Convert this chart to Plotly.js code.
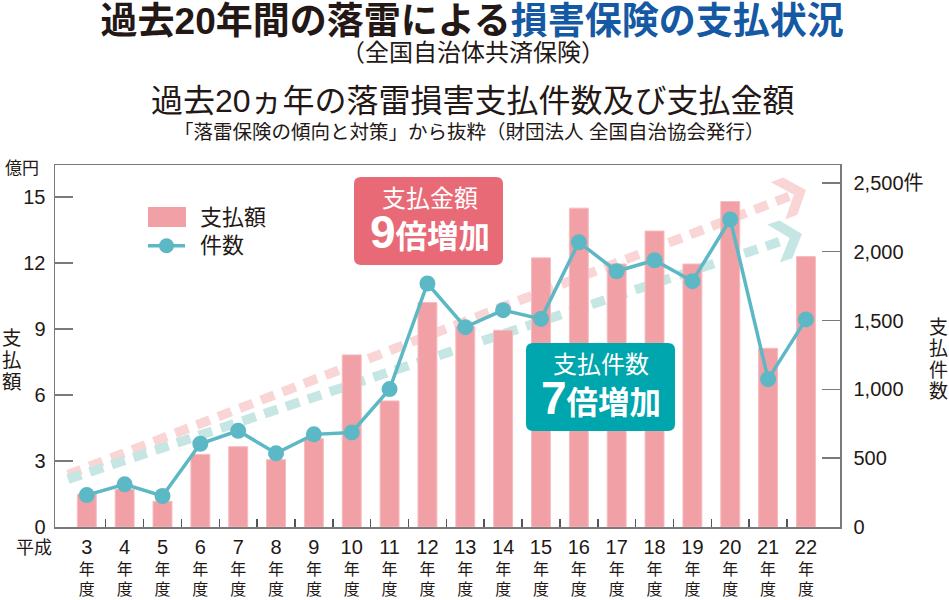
<!DOCTYPE html>
<html><head><meta charset="utf-8">
<script src="https://cdn.plot.ly/plotly-3.0.1.min.js"></script>
<style>html,body{margin:0;padding:0;background:#fff}</style>
</head><body><div id="chart" style="width:949px;height:600px"></div>
<script>
// ---- data ----
const years = ['3','4','5','6','7','8','9','10','11','12','13','14','15','16','17','18','19','20','21','22'];
const amount = [1.49,1.71,1.17,3.30,3.65,3.06,4.01,7.82,5.73,10.2,9.12,8.94,12.23,14.49,11.95,13.45,11.95,14.79,8.12,12.29]; // 億円
const counts = [232,310,225,605,699,535,673,687,1002,1769,1452,1575,1512,2069,1858,1938,1786,2234,1074,1508]; // 件
const leftTicks = [0,3,6,9,12,15];
const rightTicks = [0,500,1000,1500,2000,2500];
const rightTickText = ['0','500','1,000','1,500','2,000','2,500件'];

// ---- geometry helpers (pixel -> paper) ----
const L=55, T=165, W=785, H=362;
const X = px => (px-L)/W;
const Y = py => (T+H-py)/H;
const FONT = '"Liberation Sans", "Noto Sans CJK JP", sans-serif';
const INK = '#231815';

function roundRect(x0,y0,x1,y1,r){
  return `M${X(x0+r)},${Y(y0)} L${X(x1-r)},${Y(y0)} Q${X(x1)},${Y(y0)} ${X(x1)},${Y(y0+r)} `+
         `L${X(x1)},${Y(y1-r)} Q${X(x1)},${Y(y1)} ${X(x1-r)},${Y(y1)} `+
         `L${X(x0+r)},${Y(y1)} Q${X(x0)},${Y(y1)} ${X(x0)},${Y(y1-r)} `+
         `L${X(x0)},${Y(y0+r)} Q${X(x0)},${Y(y0)} ${X(x0+r)},${Y(y0)} Z`;
}
function chevron(tx,ty,dx,dy,Lc,Hc,Tc){
  const len=Math.hypot(dx,dy), ux=dx/len, uy=dy/len, nx=-uy, ny=ux;
  const pts=[[-Lc,-Hc],[-Lc+Tc,-Hc],[0,0],[-Lc+Tc,Hc],[-Lc,Hc],[-Tc,0]];
  return pts.map((p,i)=>{const px=tx+p[0]*ux+p[1]*nx, py=ty+p[0]*uy+p[1]*ny;
    return (i?'L':'M')+X(px)+','+Y(py);}).join(' ')+' Z';
}
const shapes = [
  // dashed trend arrows
  {type:'line',xref:'paper',yref:'paper',x0:X(68),y0:Y(474.7),x1:X(790),y1:Y(196),
   line:{color:'#f9d5d5',width:9.5,dash:'14px,9px'},layer:'below'},
  {type:'path',xref:'paper',yref:'paper',path:chevron(806,190,710,-274,30,20,13),
   fillcolor:'#f9d5d5',line:{width:0},layer:'below'},
  {type:'line',xref:'paper',yref:'paper',x0:X(68),y0:Y(479.3),x1:X(786),y1:Y(239.5),
   line:{color:'#c6e6e4',width:9.5,dash:'14px,9px'},layer:'below'},
  {type:'path',xref:'paper',yref:'paper',path:chevron(802,234,700,-234,30,20,13),
   fillcolor:'#c6e6e4',line:{width:0},layer:'below'},
  // callout boxes
  {type:'path',xref:'paper',yref:'paper',path:roundRect(354,177,503,265,7),
   fillcolor:'#e96a77',line:{width:0},layer:'above'},
  {type:'path',xref:'paper',yref:'paper',path:roundRect(526,343,675,431,7),
   fillcolor:'#00a6ad',line:{width:0},layer:'above'},
  // custom legend
  {type:'rect',xref:'paper',yref:'paper',x0:X(148),x1:X(186),y0:Y(227),y1:Y(207),
   fillcolor:'#f1a0a5',line:{width:0}},
  {type:'line',xref:'paper',yref:'paper',x0:X(148),x1:X(185),y0:Y(245.7),y1:Y(245.7),
   line:{color:'#5db8c5',width:3.5}},
  {type:'circle',xref:'paper',yref:'paper',x0:X(159),x1:X(174),y0:Y(253.2),y1:Y(238.2),
   fillcolor:'#5db8c5',line:{width:0}}
];

function ann(text,px,py,size,opts){
  return Object.assign({text:text,xref:'paper',yref:'paper',x:X(px),y:Y(py),
    xanchor:'center',yanchor:'middle',showarrow:false,
    font:{family:FONT,size:size,color:INK}},opts||{});
}
const WHITE = sz => ({family:FONT,size:sz,color:'#ffffff'});
const annotations = [
  ann('（全国自治体共済保険）',472.5,53,24),
  ann('過去20ヵ年の落雷損害支払件数及び支払金額',473.4,101,32),
  ann('「落雷保険の傾向と対策」から抜粋（財団法人 全国自治協会発行）',468.5,132.5,19.5),
  ann('億円',3,168,17,{xanchor:'left'}),
  ann('平成',34,548,18),
  ann('支払額',198,217,22,{xanchor:'left'}),
  ann('件数',198,245.5,22,{xanchor:'left'}),
  ann('<span style="font-size:24px">支払金額</span><br><b><span style="font-size:46px">9</span>倍増加</b>',
      430,221,31.5,{font:WHITE(31.5)}),
  ann('<span style="font-size:24px">支払件数</span><br><b><span style="font-size:46px">7</span>倍増加</b>',
      601,387,31.5,{font:WHITE(31.5)})
];
// vertical axis titles, one character per line
['支','払','額'].forEach((c,i)=>annotations.push(ann(c,12,338+i*22,19.5)));
['支','払','件','数'].forEach((c,i)=>annotations.push(ann(c,938,327+i*21.5,19)));

const traces = [
  {type:'bar',name:'支払額',x:years,y:amount,width:0.5,
   marker:{color:'#f1a0a5',line:{color:'#f6bcc0',width:1}},xaxis:'x',yaxis:'y',hoverinfo:'x+y'},
  {type:'scatter',name:'件数',x:years,y:counts,mode:'lines+markers',xaxis:'x',yaxis:'y2',
   line:{color:'#5db8c5',width:3.5},marker:{color:'#5db8c5',size:16}},
  {type:'scatter',x:[],y:[],xaxis:'x2',yaxis:'y',showlegend:false,hoverinfo:'skip'}
];

const xr = [-0.84, years.length-0.1];
const layout = {
  width:949,height:600,
  margin:{l:L,r:949-L-W,t:T,b:600-T-H},
  paper_bgcolor:'#fff',plot_bgcolor:'#fff',
  font:{family:FONT,color:INK},
  showlegend:false,
  title:{text:'<b>過去20年間の落雷による<span style="color:#1559a4">損害保険の支払状況</span></b>',
    font:{family:FONT,size:37,color:INK},xref:'container',x:0.4975,xanchor:'center',
    yref:'container',y:1-21/600,yanchor:'middle'},
  xaxis:{type:'category',range:xr,ticks:'',showline:true,mirror:true,linecolor:'#7a7a7a',linewidth:1.5,
    tickvals:years,ticktext:years.map(y=>'<span style="font-size:20px">'+y+'</span><br>年<br>度'),
    tickfont:{family:FONT,size:16,color:INK},showgrid:false,zeroline:false,ticklabelstandoff:6},
  xaxis2:{overlaying:'x',anchor:'y',type:'linear',range:xr,
    tickvals:years.slice(1).map((_,i)=>i+0.5),ticks:'inside',ticklen:8,tickwidth:1.5,tickcolor:'#555',
    showticklabels:false,showline:false,showgrid:false,zeroline:false},
  yaxis:{range:[0,16.45],tickvals:leftTicks,ticks:'inside',ticklen:18,tickwidth:1.5,tickcolor:'#7a7a7a',
    showline:true,linecolor:'#7a7a7a',linewidth:1.5,showgrid:false,zeroline:false,
    tickfont:{family:FONT,size:20,color:INK},ticklabelstandoff:4},
  yaxis2:{overlaying:'y',side:'right',range:[0,2630],tickvals:rightTicks,ticktext:rightTickText,
    ticks:'inside',ticklen:18,tickwidth:1.5,tickcolor:'#7a7a7a',
    showline:true,linecolor:'#7a7a7a',linewidth:1.5,showgrid:false,zeroline:false,
    tickfont:{family:FONT,size:20,color:INK},ticklabelstandoff:8},
  shapes:shapes,annotations:annotations
};
Plotly.newPlot('chart',traces,layout,{displayModeBar:false,staticPlot:true});
</script></body></html>
